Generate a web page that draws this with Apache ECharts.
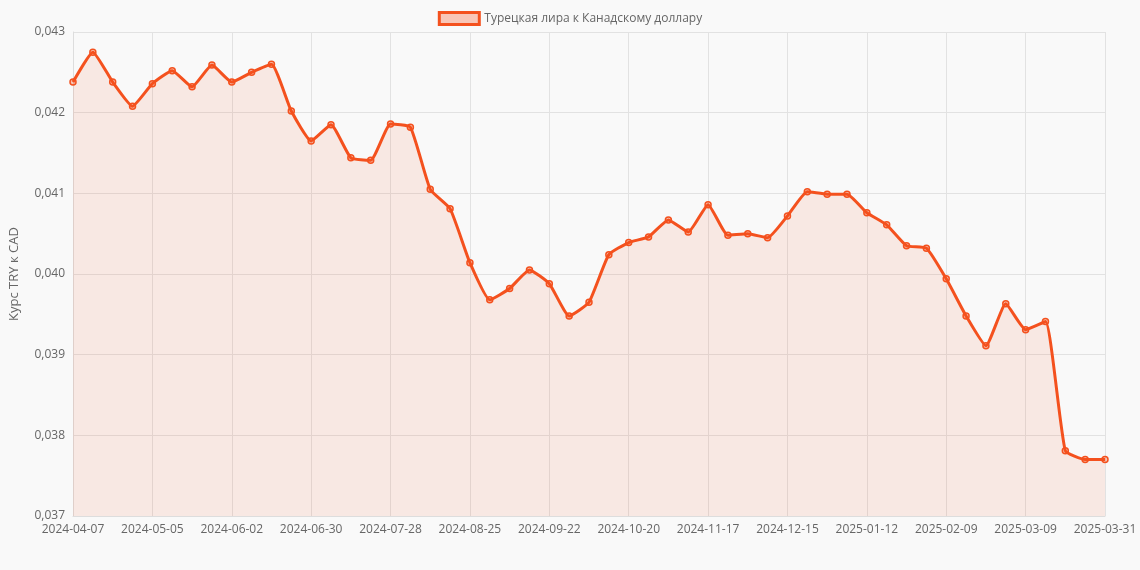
<!DOCTYPE html>
<html>
<head>
<meta charset="utf-8">
<script src="https://cdn.jsdelivr.net/npm/echarts@6/dist/echarts.min.js"></script>
<style>html,body{margin:0;background:#f9f9f9}#chart{width:1140px;height:570px}</style>
</head>
<body>
<div id="chart"></div>
<script>
var seriesName = 'Турецкая лира к Канадскому доллару';
var dates = [];
(function () {
    var d = new Date(Date.UTC(2024, 3, 7));
    for (var i = 0; i < 52; i++) {
        dates.push(d.toISOString().slice(0, 10));
        d.setUTCDate(d.getUTCDate() + 7);
    }
    dates.push('2025-03-31');
})();
var rates = [0.04238, 0.04275, 0.04238, 0.04208, 0.04236, 0.04252, 0.04232, 0.04259, 0.04238, 0.04250,
    0.04260, 0.04202, 0.04165, 0.04185, 0.04144, 0.04141, 0.04186, 0.04182, 0.04105, 0.04081,
    0.04014, 0.03968, 0.03982, 0.04005, 0.03988, 0.03948, 0.03965, 0.04024, 0.04039, 0.04046,
    0.04067, 0.04052, 0.04086, 0.04048, 0.04050, 0.04045, 0.04072, 0.04102, 0.04099, 0.04099,
    0.04076, 0.04061, 0.04035, 0.04032, 0.03994, 0.03948, 0.03911, 0.03963, 0.03931, 0.03941,
    0.03781, 0.03770, 0.03770];

var chart = echarts.init(document.getElementById('chart'));
var option = {
    backgroundColor: '#f9f9f9',
    textStyle: { fontFamily: 'Open Sans, sans-serif' },
    legend: {
        top: 6,
        itemWidth: 40,
        itemHeight: 12,
        textStyle: { color: '#666', fontSize: 12 },
        data: [{ name: seriesName, icon: 'rect', itemStyle: { color: 'rgba(244,81,30,0.3)', borderColor: '#f4511e', borderWidth: 3 } }]
    },
    grid: { left: 68, right: 35, top: 32, bottom: 54 },
    xAxis: {
        type: 'category',
        boundaryGap: false,
        data: dates,
        axisLine: { lineStyle: { color: '#ddd' } },
        axisTick: { show: false },
        axisLabel: {
            color: '#666', fontSize: 12,
            interval: function (i) { return i % 4 === 0 || i === dates.length - 1; },
            showMaxLabel: true
        },
        splitLine: { show: true, interval: function (i) { return i % 4 === 0; }, lineStyle: { color: '#e2e2e2' } }
    },
    yAxis: {
        type: 'value',
        min: 0.037, max: 0.043, interval: 0.001,
        name: 'Курс TRY к CAD',
        nameLocation: 'middle',
        nameGap: 52,
        nameTextStyle: { color: '#666', fontSize: 13 },
        axisLine: { show: true, lineStyle: { color: '#ddd' } },
        axisLabel: { color: '#666', fontSize: 12, formatter: function (v) { return v.toFixed(3).replace('.', ','); } },
        splitLine: { lineStyle: { color: '#e2e2e2' } }
    },
    series: [{
        name: seriesName,
        type: 'line',
        data: rates,
        smooth: 0.15,
        symbol: 'circle',
        symbolSize: 6,
        itemStyle: { color: 'rgba(244,81,30,0.3)', borderColor: '#f4511e', borderWidth: 1.5 },
        lineStyle: { color: '#f4511e', width: 3 },
        areaStyle: { color: 'rgba(244,81,30,0.14)', origin: 'start' }
    }]
};
chart.setOption(option);
</script>
</body>
</html>
